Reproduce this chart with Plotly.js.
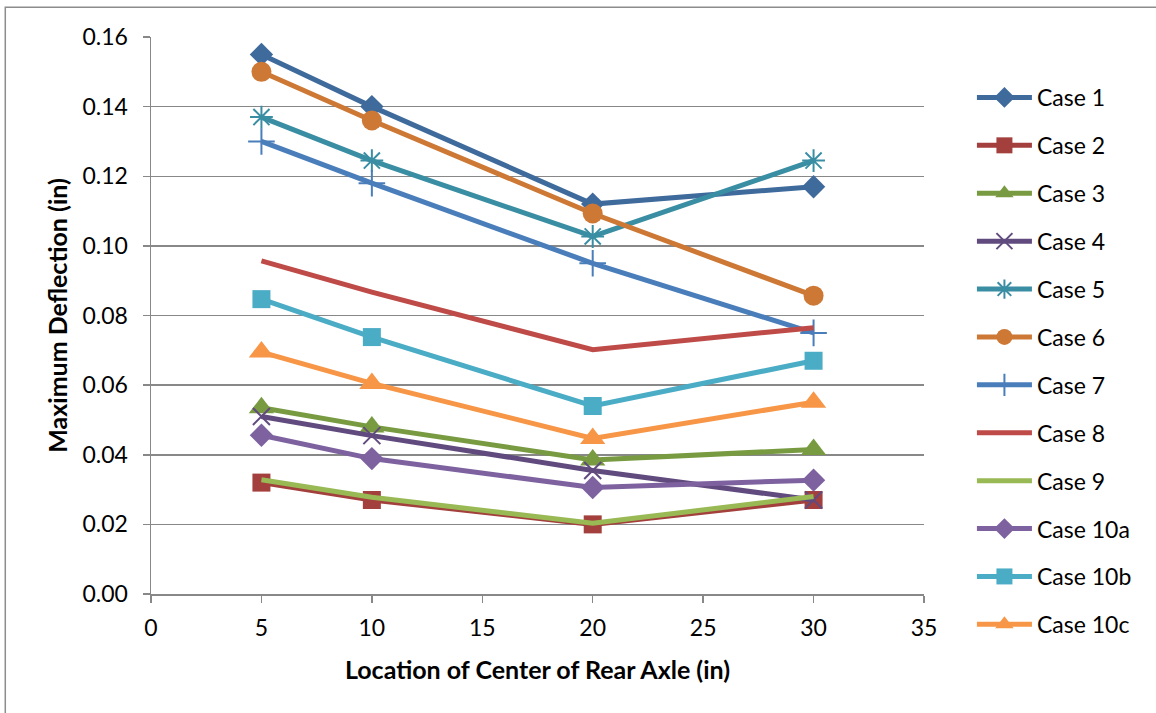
<!DOCTYPE html>
<html>
<head>
<meta charset="utf-8">
<script src="https://cdn.plot.ly/plotly-3.0.1.min.js"></script>
<style>
  html, body { margin: 0; padding: 0; background: #fff; }
  #chart { width: 1156px; height: 713px; }
</style>
</head>
<body>
<div id="chart"></div>
<script>
// Rear axle location (in)
const axleLocation = [5, 10, 20, 30];

// Maximum deflection (in) for each load case
const case1   = [0.155, 0.140, 0.112, 0.117];
const case2   = [0.032, 0.027, 0.020, 0.027];
const case3   = [0.0535, 0.048, 0.0385, 0.0415];
const case4   = [0.051, 0.0455, 0.0355, 0.027];
const case5   = [0.137, 0.1245, 0.1027, 0.1245];
const case6   = [0.150, 0.136, 0.1093, 0.0857];
const case7   = [0.130, 0.118, 0.095, 0.075];
const case8   = [0.0957, 0.0867, 0.0702, 0.0765];
const case9   = [0.0328, 0.0278, 0.0203, 0.0280];
const case10a = [0.0456, 0.0389, 0.0306, 0.0327];
const case10b = [0.0847, 0.0738, 0.0540, 0.0670];
const case10c = [0.0695, 0.0605, 0.0447, 0.0551];

const seriesNames = ['Case 1', 'Case 2', 'Case 3', 'Case 4', 'Case 5', 'Case 6',
                     'Case 7', 'Case 8', 'Case 9', 'Case 10a', 'Case 10b', 'Case 10c'];
const seriesValues = [case1, case2, case3, case4, case5, case6,
                      case7, case8, case9, case10a, case10b, case10c];

const styles = [
  { color: '#3F6A9C', symbol: 'diamond', size: 18 },
  { color: '#A33F3C', symbol: 'square', size: 18 },
  { color: '#789B41', symbol: 'triangle-up', size: 22 },
  { color: '#614B7E', symbol: 'x-thin', size: 17, open: true },
  { color: '#3A8EA3', symbol: 'asterisk', size: 19, open: true },
  { color: '#CD7834', symbol: 'circle', size: 20 },
  { color: '#4A7EBB', symbol: 'cross-thin', size: 19, open: true },
  { color: '#BE4B48', symbol: null },
  { color: '#98B954', symbol: null },
  { color: '#7E62A0', symbol: 'diamond', size: 18 },
  { color: '#4BACC6', symbol: 'square', size: 18 },
  { color: '#F79646', symbol: 'triangle-up', size: 22 }
];

const traces = seriesNames.map((name, i) => {
  const s = styles[i];
  const t = {
    x: axleLocation,
    y: seriesValues[i],
    name: name,
    type: 'scatter',
    legendgroup: 'g' + i,
    line: { color: s.color, width: 5 },
    hoverinfo: 'x+y+name'
  };
  if (s.symbol) {
    t.mode = 'lines+markers';
    t.marker = s.open
      ? { symbol: s.symbol, size: s.size, color: s.color, line: { color: s.color, width: 2 } }
      : { symbol: s.symbol, size: s.size, color: s.color, line: { width: 0 } };
  } else {
    t.mode = 'lines';
  }
  return t;
});

const gridGray = '#888888';
const fontFamily = 'Lato, "Open Sans", sans-serif';

const layout = {
  width: 1156,
  height: 713,
  paper_bgcolor: '#ffffff',
  plot_bgcolor: '#ffffff',
  margin: { l: 151, r: 232, t: 37, b: 119, pad: 0 },
  font: { family: fontFamily, size: 23, color: '#000000' },
  showlegend: true,
  legend: {
    x: 1.062, xanchor: 'left',
    y: 0.93, yanchor: 'top',
    font: { family: fontFamily, size: 23, color: '#000000' },
    tracegroupgap: 15,
    itemwidth: 55,
    maxheight: 700,
    bgcolor: 'rgba(0,0,0,0)'
  },
  xaxis: {
    range: [0, 35],
    dtick: 5,
    tick0: 0,
    showgrid: false,
    zeroline: false,
    showline: true,
    linecolor: gridGray,
    linewidth: 1.5,
    ticks: 'outside',
    ticklen: 7,
    tickwidth: 1.5,
    tickcolor: gridGray,
    ticklabelstandoff: 6,
    tickfont: { family: fontFamily, size: 23, color: '#000' },
    title: {
      text: 'Location of Center of Rear Axle (in)',
      font: { family: fontFamily, size: 25, color: '#000', weight: 'bold' },
      standoff: 21
    }
  },
  yaxis: {
    range: [0, 0.16],
    dtick: 0.02,
    tick0: 0,
    tickformat: '.2f',
    showgrid: true,
    gridcolor: gridGray,
    gridwidth: 1.5,
    zeroline: false,
    showline: true,
    linecolor: gridGray,
    linewidth: 1.5,
    ticks: 'outside',
    ticklen: 7,
    tickwidth: 1.5,
    tickcolor: gridGray,
    ticklabelstandoff: 10,
    tickfont: { family: fontFamily, size: 23, color: '#000' },
    title: {
      text: 'Maximum Deflection (in)',
      font: { family: fontFamily, size: 25, color: '#000', weight: 'bold' },
      standoff: 7
    }
  },
  shapes: [
    {
      type: 'rect', xref: 'paper', yref: 'paper',
      x0: -0.1885, x1: 1.31, y0: -0.23, y1: 1.0535,
      line: { color: '#8C8C8C', width: 1.5 },
      fillcolor: 'rgba(0,0,0,0)', layer: 'below'
    }
  ]
};

Plotly.newPlot('chart', traces, layout, { displayModeBar: false, staticPlot: true });
</script>
</body>
</html>
